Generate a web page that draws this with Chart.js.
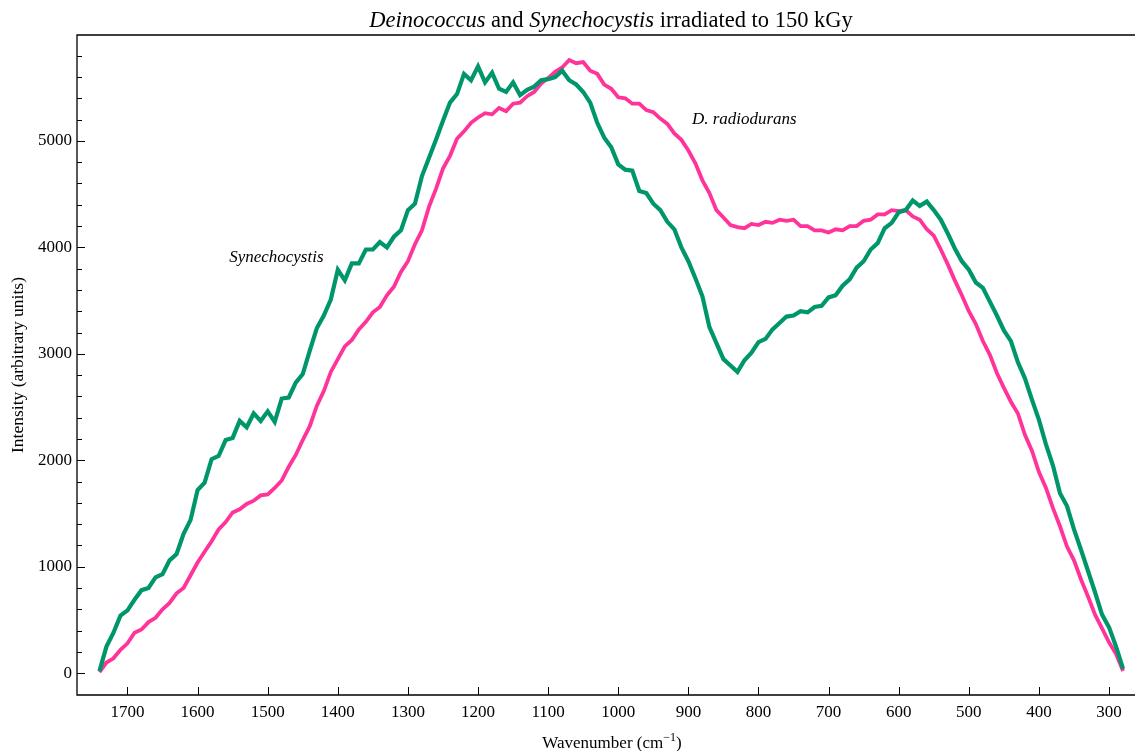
<!DOCTYPE html>
<html>
<head>
<meta charset="utf-8">
<script src="https://cdn.jsdelivr.net/npm/chart.js@4.4.1/dist/chart.umd.min.js"></script>
<style>
  body { margin: 0; background: #fff; }
  canvas { display: block; }
</style>
</head>
<body>
<canvas id="myChart" width="1135" height="751"></canvas>
<script>
var wavenumbers = [
  1740,1730,1720,1710,1700,1690,1680,1670,1660,1650,1640,1630,1620,1610,1600,1590,1580,1570,1560,1550,
  1540,1530,1520,1510,1500,1490,1480,1470,1460,1450,1440,1430,1420,1410,1400,1390,1380,1370,1360,1350,
  1340,1330,1320,1310,1300,1290,1280,1270,1260,1250,1240,1230,1220,1210,1200,1190,1180,1170,1160,1150,
  1140,1130,1120,1110,1100,1090,1080,1070,1060,1050,1040,1030,1020,1010,1000,990,980,970,960,950,
  940,930,920,910,900,890,880,870,860,850,840,830,820,810,800,790,780,770,760,750,
  740,730,720,710,700,690,680,670,660,650,640,630,620,610,600,590,580,570,560,550,
  540,530,520,510,500,490,480,470,460,450,440,430,420,410,400,390,380,370,360,350,
  340,330,320,310,300,290,280
];

var synechocystis = [
  20,250,380,540,590,690,780,800,900,930,1060,1120,1310,1440,1720,1790,2010,2040,2190,2210,
  2370,2310,2440,2370,2460,2360,2580,2590,2730,2810,3030,3240,3360,3510,3790,3690,3850,3850,3980,3980,
  4050,4000,4100,4160,4350,4410,4670,4840,5010,5190,5360,5440,5630,5570,5700,5550,5640,5490,5460,5550,
  5430,5480,5510,5570,5580,5600,5660,5570,5530,5460,5360,5170,5030,4940,4780,4730,4720,4530,4510,4410,
  4350,4240,4170,4000,3870,3710,3540,3250,3100,2950,2890,2830,2940,3010,3110,3140,3230,3290,3350,3360,
  3400,3390,3440,3450,3530,3550,3640,3700,3810,3870,3980,4040,4180,4230,4330,4350,4440,4390,4430,4350,
  4260,4130,3990,3870,3790,3670,3620,3490,3360,3220,3120,2920,2770,2570,2380,2150,1950,1690,1570,1350,
  1160,960,760,550,430,250,40
];

var radiodurans = [
  10,100,140,220,280,380,410,480,520,600,660,750,800,920,1040,1140,1240,1350,1420,1510,
  1540,1590,1620,1670,1680,1740,1810,1940,2050,2190,2320,2510,2650,2830,2950,3070,3130,3230,3300,3390,
  3440,3550,3630,3770,3870,4030,4160,4380,4550,4740,4860,5020,5090,5170,5220,5260,5250,5310,5280,5350,
  5360,5420,5460,5540,5590,5650,5690,5760,5730,5740,5660,5630,5530,5490,5410,5400,5350,5350,5290,5270,
  5210,5160,5070,5010,4910,4790,4630,4510,4350,4280,4210,4190,4180,4220,4210,4240,4230,4260,4250,4260,
  4200,4200,4160,4160,4140,4170,4160,4200,4200,4250,4260,4310,4310,4350,4340,4350,4290,4260,4170,4110,
  3980,3840,3690,3550,3400,3280,3120,2990,2820,2680,2550,2440,2240,2090,1890,1740,1550,1380,1190,1060,
  880,720,550,420,290,180,20
];

var xTickValues = [1700,1600,1500,1400,1300,1200,1100,1000,900,800,700,600,500,400,300];
var yTickValues = [0,200,400,600,800,1000,1200,1400,1600,1800,2000,2200,2400,2600,2800,
  3000,3200,3400,3600,3800,4000,4200,4400,4600,4800,5000,5200,5400,5600,5800];

// label anchors in data units: [wavenumber, intensity]
var synLabelAt = [1555, 3900];
var radLabelAt = [895, 5200];

var serif = "'Liberation Serif', 'DejaVu Serif', serif";

function points(ys) {
  return wavenumbers.map(function (w, i) { return { x: w, y: ys[i] }; });
}

var decorations = {
  id: 'decorations',
  afterDraw: function (chart) {
    var ctx = chart.ctx;
    var a = chart.chartArea;
    var xs = chart.scales.x, ys = chart.scales.y;
    ctx.save();
    ctx.strokeStyle = '#000';
    ctx.lineWidth = 1.3;
    // frame: top, left, bottom
    ctx.beginPath();
    ctx.moveTo(a.right, a.top); ctx.lineTo(a.left, a.top);
    ctx.lineTo(a.left, a.bottom); ctx.lineTo(a.right, a.bottom);
    ctx.stroke();
    // inward tick marks
    ctx.lineWidth = 1;
    ctx.beginPath();
    yTickValues.forEach(function (v) {
      var py = Math.round(ys.getPixelForValue(v)) + 0.5;
      var len = v % 1000 === 0 ? 8 : 5;
      ctx.moveTo(a.left, py); ctx.lineTo(a.left + len, py);
    });
    xTickValues.forEach(function (v) {
      var px = Math.round(xs.getPixelForValue(v)) + 0.5;
      ctx.moveTo(px, a.bottom); ctx.lineTo(px, a.bottom - 8);
    });
    ctx.stroke();

    ctx.fillStyle = '#000';
    ctx.textBaseline = 'alphabetic';

    // title with italic genus names
    var parts = [
      ['italic', 'Deinococcus'], ['normal', ' and '], ['italic', 'Synechocystis'],
      ['normal', ' irradiated to 150 kGy']
    ];
    var tSize = 22.5, total = 0;
    parts.forEach(function (p) {
      ctx.font = p[0] + ' ' + tSize + 'px ' + serif;
      total += ctx.measureText(p[1]).width;
    });
    var tx = 611 - total / 2;
    parts.forEach(function (p) {
      ctx.font = p[0] + ' ' + tSize + 'px ' + serif;
      ctx.textAlign = 'left';
      ctx.fillText(p[1], tx, 27);
      tx += ctx.measureText(p[1]).width;
    });

    // x axis title with superscript
    ctx.font = '17px ' + serif;
    var s1 = 'Wavenumber (cm', s3 = ')';
    var w1 = ctx.measureText(s1).width, w3 = ctx.measureText(s3).width;
    ctx.font = '12px ' + serif;
    var s2 = '\u22121', w2 = ctx.measureText(s2).width;
    var xx = 612 - (w1 + w2 + w3) / 2;
    ctx.font = '17px ' + serif;
    ctx.fillText(s1, xx, 748);
    ctx.font = '12px ' + serif;
    ctx.fillText(s2, xx + w1, 741);
    ctx.font = '17px ' + serif;
    ctx.fillText(s3, xx + w1 + w2, 748);

    // y axis title
    ctx.save();
    ctx.translate(23, (a.top + a.bottom) / 2);
    ctx.rotate(-Math.PI / 2);
    ctx.textAlign = 'center';
    ctx.font = '17.5px ' + serif;
    ctx.fillText('Intensity (arbitrary units)', 0, 0);
    ctx.restore();

    // curve labels
    ctx.font = 'italic 17px ' + serif;
    ctx.textAlign = 'left';
    ctx.textBaseline = 'middle';
    ctx.fillText('Synechocystis', xs.getPixelForValue(synLabelAt[0]), ys.getPixelForValue(synLabelAt[1]));
    ctx.fillText('D. radiodurans', xs.getPixelForValue(radLabelAt[0]), ys.getPixelForValue(radLabelAt[1]));
    ctx.restore();
  }
};

var canvas = document.getElementById('myChart');
new Chart(canvas, {
  type: 'line',
  data: {
    datasets: [{
      label: 'Synechocystis',
      data: points(synechocystis),
      borderColor: '#00966b',
      borderWidth: 4.2,
      pointRadius: 0,
      tension: 0
    }, {
      label: 'D. radiodurans',
      data: points(radiodurans),
      borderColor: '#ff3399',
      borderWidth: 3.8,
      pointRadius: 0,
      tension: 0
    }]
  },
  options: {
    responsive: false,
    animation: false,
    layout: { padding: { left: 0, right: 0, top: 35, bottom: 0 } },
    plugins: {
      legend: { display: false },
      title: { display: false },
      tooltip: { enabled: false }
    },
    scales: {
      x: {
        type: 'linear',
        reverse: true,
        min: 263,
        max: 1772,
        border: { display: false },
        grid: { display: false, drawTicks: false },
        afterBuildTicks: function (scale) {
          scale.ticks = xTickValues.map(function (v) { return { value: v }; });
        },
        afterFit: function (scale) { scale.height = 56; },
        ticks: {
          padding: 7,
          maxRotation: 0,
          autoSkip: false,
          color: '#000',
          font: { family: serif, size: 17 },
          callback: function (v) { return String(v); }
        }
      },
      y: {
        min: -205,
        max: 5995,
        border: { display: false },
        grid: { display: false, drawTicks: false },
        afterBuildTicks: function (scale) {
          scale.ticks = yTickValues.map(function (v) { return { value: v }; });
        },
        afterFit: function (scale) { scale.width = 77; },
        ticks: {
          padding: 5,
          autoSkip: false,
          color: '#000',
          font: { family: serif, size: 17 },
          callback: function (v) { return v % 1000 === 0 ? String(v) : ''; }
        }
      }
    }
  },
  plugins: [decorations]
});
</script>
</body>
</html>
